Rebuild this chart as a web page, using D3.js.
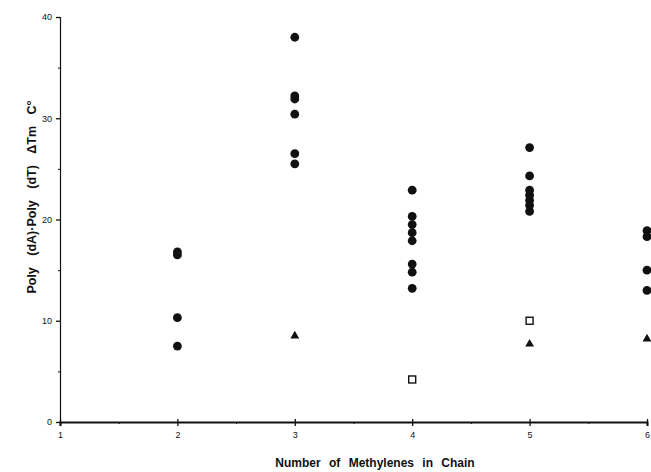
<!DOCTYPE html>
<html>
<head>
<meta charset="utf-8">
<script src="https://cdn.jsdelivr.net/npm/d3@7"></script>
<style>
  body { margin: 0; background: #fff; }
  svg { display: block; font-family: 'Liberation Sans', Arial, sans-serif; }
</style>
</head>
<body>
<svg id="chart" width="651" height="472"></svg>
<script>
// number of methylenes for each group of filled circles
const methylenes = [2, 3, 4, 5, 6]
// delta Tm values (filled circles), one list per methylene count
const circleValues = [
  [16.8, 16.5, 10.3, 7.5],
  [38.0, 32.2, 31.9, 30.4, 26.5, 25.5],
  [22.9, 20.3, 19.5, 18.7, 17.9, 15.6, 14.8, 13.2],
  [27.1, 24.3, 22.9, 22.4, 21.9, 21.4, 20.8],
  [18.9, 18.3, 15.0, 13.0]
]
// filled triangles
const triangleX = [3, 5, 6]
const triangleY = [8.5, 7.7, 8.2]
// open squares
const squareX = [4, 5]
const squareY = [4.2, 10.0]

const xTicks = [1, 2, 3, 4, 5, 6]
const xMinor = [1.5, 2.5, 3.5, 4.5, 5.5]
const yTicks = [0, 10, 20, 30, 40]
const yMinor = [5, 15, 25, 35]

const svg = d3.select('#chart')
const x = d3.scaleLinear().domain([1, 6]).range([60, 647])
const y = d3.scaleLinear().domain([0, 40]).range([422, 17])
const ink = '#111'

// y axis
const yAxis = svg.append('g').attr('transform', 'translate(' + x(1) + ',0)')
  .call(d3.axisLeft(y).tickValues(yTicks).tickSize(4).tickPadding(4))
yAxis.select('.domain').attr('stroke', ink).attr('stroke-width', 1.2)
yAxis.selectAll('.tick line').attr('stroke', ink).attr('stroke-width', 1.3)
yAxis.selectAll('.tick text').attr('fill', ink).style('font-size', '9px')
svg.append('g').attr('transform', 'translate(' + x(1) + ',0)')
  .call(d3.axisLeft(y).tickValues(yMinor).tickSize(2).tickFormat(''))
  .call(g => g.select('.domain').remove())
  .selectAll('line').attr('stroke', ink)

// x axis
const xAxis = svg.append('g').attr('transform', 'translate(0,' + y(0) + ')')
  .call(d3.axisBottom(x).tickValues(xTicks).tickSize(4).tickPadding(6).tickFormat(d3.format('d')))
xAxis.select('.domain').attr('stroke', ink).attr('stroke-width', 2)
xAxis.selectAll('.tick line').attr('stroke', ink).attr('stroke-width', 1.3).attr('y1', -3)
xAxis.selectAll('.tick text').attr('fill', ink).style('font-size', '9px')
svg.append('g').attr('transform', 'translate(0,' + y(0) + ')')
  .call(d3.axisBottom(x).tickValues(xMinor).tickSize(2).tickFormat(''))
  .call(g => g.select('.domain').remove())
  .selectAll('line').attr('stroke', ink)

// points
const circles = []
methylenes.forEach((m, i) => circleValues[i].forEach(v => circles.push([m, v])))

svg.append('g').selectAll('circle')
  .data(circles)
  .enter().append('circle')
  .attr('cx', d => x(d[0]))
  .attr('cy', d => y(d[1]))
  .attr('r', 4.4)
  .attr('fill', ink)

const tri = d3.symbol().type(d3.symbolTriangle).size(34)
svg.append('g').selectAll('path')
  .data(triangleX.map((d, i) => [d, triangleY[i]]))
  .enter().append('path')
  .attr('d', tri)
  .attr('transform', d => 'translate(' + x(d[0]) + ',' + y(d[1]) + ')')
  .attr('fill', ink)

svg.append('g').selectAll('rect')
  .data(squareX.map((d, i) => [d, squareY[i]]))
  .enter().append('rect')
  .attr('x', d => x(d[0]) - 3.5)
  .attr('y', d => y(d[1]) - 3.5)
  .attr('width', 7)
  .attr('height', 7)
  .attr('fill', '#fff')
  .attr('stroke', ink)
  .attr('stroke-width', 1.4)

// titles
svg.append('text')
  .attr('x', 375)
  .attr('y', 467)
  .attr('text-anchor', 'middle')
  .attr('fill', ink)
  .style('font-size', '12px')
  .style('font-weight', 'bold')
  .style('word-spacing', '5px')
  .text('Number of Methylenes in Chain')

svg.append('text')
  .attr('transform', 'translate(36,197) rotate(-90)')
  .attr('text-anchor', 'middle')
  .attr('fill', ink)
  .style('font-size', '12.5px')
  .style('font-weight', 'bold')
  .style('word-spacing', '8px')
  .text('Poly (dA)·Poly (dT) ΔTm C°')
</script>
</body>
</html>
